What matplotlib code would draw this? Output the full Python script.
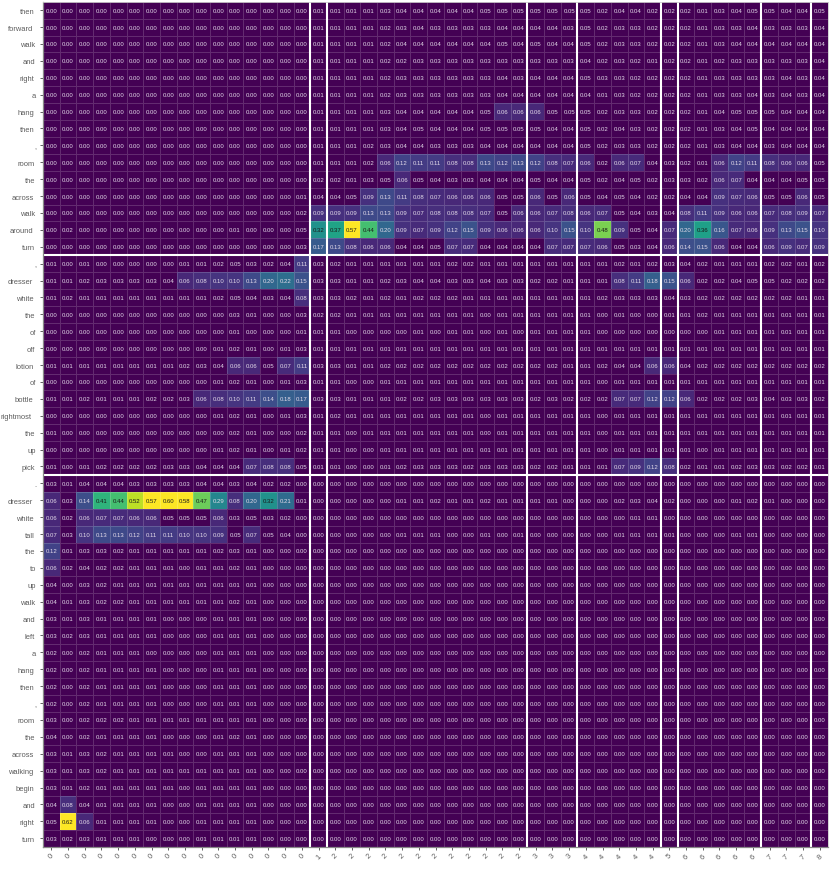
import numpy as np
import matplotlib
matplotlib.use("Agg")
import matplotlib.pyplot as plt
from matplotlib.colors import FuncNorm
from matplotlib.transforms import ScaledTranslation

plt.rcParams['font.family'] = ['Liberation Sans', 'DejaVu Sans']

col_labels = [0]*16 + [1] + [2]*12 + [3]*3 + [4]*5 + [5] + [6]*5 + [7]*3 + [8]

rows_a = ["then","forward","walk","and","right","a","hang","then",",","room","the","across","walk","around","turn"]
rows_b = [",","dresser","white","the","of","off","lotion","of","bottle","rightmost","the","up","pick"]
rows_c = [".","dresser","white","tall","the","to","up","walk","and","left","a","hang","then",",","room","the","across","walking","begin","and","right","turn"]

# values in hundredths, columns 0 (16 cells)
left_a = [
[0,0,0,0,0,0,0,0,0,0,0,0,0,0,0,0],
[0,0,0,0,0,0,0,0,0,0,0,0,0,0,0,0],
[0,0,0,0,0,0,0,0,0,0,0,0,0,0,0,0],
[0,0,0,0,0,0,0,0,0,0,0,0,0,0,0,0],
[0,0,0,0,0,0,0,0,0,0,0,0,0,0,0,0],
[0,0,0,0,0,0,0,0,0,0,0,0,0,0,0,0],
[0,0,0,0,0,0,0,0,0,0,0,0,0,0,0,0],
[0,0,0,0,0,0,0,0,0,0,0,0,0,0,0,0],
[0,0,0,0,0,0,0,0,0,0,0,0,0,0,0,0],
[0,0,0,0,0,0,0,0,0,0,0,0,0,0,0,0],
[0,0,0,0,0,0,0,0,0,0,0,0,0,0,0,0],
[0,0,0,0,0,0,0,0,0,0,0,0,0,0,0,1],
[0,0,0,0,0,0,0,0,0,0,0,0,0,0,0,2],
[0,2,0,0,0,0,0,0,0,0,0,1,0,0,0,5],
[0,0,0,0,0,0,0,0,0,0,0,0,0,0,0,3],
]
# columns 1..8 (31 cells)
right_a = [
[1, 1,1,1,3,4,4,4,4,4,5,5,5, 5,5,5, 5,2,4,4,2, 2, 2,1,3,4,5, 5,4,4, 5],
[1, 1,1,1,2,3,4,3,3,3,3,4,4, 4,4,3, 5,2,3,3,2, 2, 2,1,3,3,4, 3,3,3, 4],
[1, 1,1,1,2,4,4,4,4,4,4,5,4, 5,4,4, 5,2,3,3,2, 2, 2,1,3,4,4, 4,4,4, 4],
[1, 1,1,1,2,2,3,3,3,3,3,3,3, 3,3,3, 4,2,3,2,1, 2, 2,1,2,3,3, 3,3,3, 4],
[1, 1,1,1,2,3,3,3,3,3,3,4,3, 4,4,4, 5,3,3,2,2, 2, 2,1,3,3,3, 3,4,3, 4],
[1, 1,1,1,2,3,3,3,3,3,3,4,4, 4,4,4, 4,1,3,2,2, 2, 2,1,3,3,4, 3,4,3, 4],
[1, 1,1,1,3,4,4,4,4,4,5,6,6, 6,5,5, 5,2,3,3,2, 2, 2,1,4,5,5, 5,4,4, 4],
[1, 1,1,1,3,4,5,4,4,4,5,5,5, 5,4,4, 5,2,4,3,2, 2, 2,1,3,4,5, 4,4,4, 4],
[1, 1,1,2,3,4,4,3,3,3,4,4,4, 4,4,4, 5,2,3,3,2, 2, 2,1,3,4,4, 3,4,4, 4],
[1, 1,1,2,6,12,11,11,8,8,13,12,13, 12,8,7, 6,2,6,7,4, 3, 2,1,6,12,11, 8,6,6, 5],
[2, 2,1,3,5,6,5,4,3,3,4,4,4, 5,4,4, 5,2,4,5,2, 3, 3,2,6,7,4, 4,4,5, 5],
[4, 4,5,9,13,11,8,7,6,6,6,5,5, 6,5,6, 5,4,5,4,2, 2, 4,4,9,7,6, 5,5,6, 5],
[9, 9,9,13,13,9,7,8,8,8,7,5,6, 6,7,8, 6,7,5,4,3, 4, 8,11,9,6,6, 7,8,9, 7],
[32, 37,57,44,20,9,7,9,12,15,9,6,6, 6,10,15, 10,48,9,5,4, 7, 20,36,16,7,6, 9,13,15, 10],
[17, 13,8,6,6,4,4,5,7,7,4,4,4, 4,7,7, 7,6,5,3,4, 6, 14,15,6,4,4, 6,9,7, 9],
]
left_b = [
[1,0,1,0,0,0,0,0,1,1,2,5,3,2,4,11],
[1,1,2,3,3,3,3,4,6,8,10,10,13,20,22,15],
[1,2,1,1,1,1,1,1,1,1,2,5,4,3,4,8],
[0,0,0,0,0,0,0,0,0,0,0,3,1,0,0,3],
[0,0,0,0,0,0,0,0,0,0,0,1,0,0,0,1],
[0,0,0,0,0,0,0,0,0,0,1,2,1,0,1,3],
[1,1,1,1,1,1,1,1,2,3,4,6,6,5,7,11],
[0,0,0,0,0,0,0,0,0,0,1,2,1,0,1,3],
[1,1,2,1,1,1,2,2,3,6,8,10,11,14,18,17],
[0,0,0,0,0,0,0,0,0,0,1,2,1,0,1,3],
[1,0,0,0,0,0,0,0,0,0,0,2,1,0,0,2],
[0,0,0,0,0,0,0,0,0,0,1,2,1,0,1,2],
[1,0,1,2,2,2,2,3,3,4,4,4,7,8,8,5],
]
right_b = [
[3, 2,1,1,1,1,1,1,2,2,1,1,1, 1,1,1, 1,1,2,1,2, 3, 4,2,1,1,1, 2,2,1, 2],
[3, 3,1,1,2,3,4,4,3,3,4,3,3, 2,2,1, 1,1,8,11,18, 15, 6,2,2,4,5, 5,2,2, 2],
[3, 3,2,1,2,1,2,2,2,1,1,1,1, 1,1,1, 1,2,3,3,3, 4, 3,2,2,2,2, 2,2,1, 1],
[2, 2,1,1,1,1,1,1,1,1,0,1,1, 1,1,1, 1,0,1,0,0, 1, 1,2,1,1,1, 1,1,1, 1],
[1, 1,0,0,0,0,1,0,1,1,0,1,0, 1,1,1, 1,0,0,0,0, 0, 0,0,1,1,1, 1,1,1, 1],
[1, 1,1,1,1,1,1,1,1,1,1,1,1, 1,1,1, 1,1,1,1,1, 1, 1,1,1,1,1, 1,1,1, 1],
[3, 3,1,1,2,2,2,2,2,2,2,2,2, 2,2,1, 1,2,4,4,6, 6, 4,2,2,2,2, 2,2,2, 2],
[1, 1,0,0,1,1,1,1,1,1,1,1,1, 1,1,1, 1,0,1,1,1, 1, 1,1,1,1,1, 1,1,1, 1],
[3, 3,1,1,1,2,2,3,3,3,3,3,3, 2,3,2, 2,2,7,7,12, 12, 6,2,2,2,3, 4,3,3, 2],
[1, 2,1,1,1,1,1,1,1,1,0,1,1, 1,1,1, 1,0,1,1,1, 1, 1,1,1,1,1, 1,1,1, 1],
[1, 1,0,1,1,1,1,1,1,1,0,1,1, 1,1,1, 1,0,1,1,1, 1, 1,1,1,1,1, 1,1,1, 1],
[1, 1,0,0,1,1,1,1,1,1,1,1,1, 1,1,1, 1,0,1,1,1, 1, 1,0,1,1,1, 1,1,1, 1],
[1, 1,0,0,1,2,3,3,3,2,3,3,3, 2,2,1, 1,1,7,9,12, 8, 2,1,1,2,3, 3,2,2, 1],
]
left_c = [
[3,1,4,4,4,3,3,3,3,4,4,3,4,2,2,0],
[6,3,14,41,44,52,57,60,58,47,29,8,20,32,21,1],
[6,2,6,7,7,6,6,5,5,5,6,3,5,3,2,0],
[7,3,10,13,13,12,11,11,10,10,9,5,7,5,4,0],
[12,1,3,3,2,1,1,1,1,1,2,3,1,0,0,0],
[6,2,4,2,2,1,1,1,0,1,1,2,1,0,0,0],
[4,0,3,2,1,1,1,1,1,1,1,1,1,0,0,0],
[4,1,3,2,2,1,1,1,1,1,1,2,1,0,0,0],
[3,1,3,1,1,1,1,0,0,0,1,1,1,0,0,0],
[3,2,3,1,1,1,1,0,0,0,1,1,1,0,0,0],
[2,0,2,1,1,1,0,0,0,0,1,1,1,0,0,0],
[2,0,2,1,1,1,1,0,0,0,1,1,1,0,0,0],
[2,0,2,1,1,1,1,0,0,0,1,1,1,0,0,0],
[2,0,2,1,1,1,1,0,0,0,1,1,1,0,0,0],
[3,0,2,2,2,1,1,1,1,1,1,1,1,0,0,0],
[4,0,2,1,1,1,1,0,0,0,1,2,1,0,0,0],
[3,1,3,2,1,1,1,1,0,0,1,1,1,0,0,0],
[3,1,3,2,1,1,1,1,1,1,1,1,1,0,0,0],
[3,1,2,1,1,1,1,1,0,1,1,1,1,0,0,0],
[4,8,4,1,1,1,1,0,0,1,1,1,1,0,0,0],
[5,62,6,1,1,1,1,0,0,1,1,1,1,0,0,0],
[3,2,3,1,1,1,0,0,0,1,1,1,1,0,0,0],
]
zero_right = [0]*31
right_c = [
zero_right,
[0, 0,0,0,0,1,1,2,1,1,2,1,1, 1,1,0, 0,0,2,3,4, 2, 0,0,0,1,2, 1,0,0, 0],
[0, 0,0,0,0,0,0,0,0,0,0,0,0, 0,0,0, 0,0,0,1,1, 0, 0,0,0,0,0, 0,0,0, 0],
[0, 0,0,0,0,1,1,1,0,0,1,0,1, 0,0,0, 0,0,1,1,1, 1, 0,0,0,1,1, 0,0,0, 0],
] + [zero_right]*18

values = np.array([l + r for l, r in zip(left_a + left_b + left_c, right_a + right_b + right_c)]) / 100
row_labels = rows_a + rows_b + rows_c
n_rows, n_cols = values.shape

row_breaks = [15, 28]
col_breaks = [16, 17, 29, 32, 37, 38, 43, 46]

# colour scale: everything under 0.055 stays at the base colour
anchors_x = [0, 0.055, 0.06, 0.10, 0.13, 0.20, 0.32, 0.37, 0.44, 0.48, 0.52, 0.57, 1]
anchors_y = [0, 0.0, 0.11, 0.15, 0.22, 0.33, 0.50, 0.58, 0.70, 0.80, 0.90, 1.0, 1]
norm = FuncNorm((lambda v: np.interp(v, anchors_x, anchors_y),
                 lambda v: np.interp(v, anchors_y, anchors_x)), vmin=0, vmax=1)

W, H = 830, 878
fig = plt.figure(figsize=(W/100, H/100), dpi=100)
left, right, top, bottom = 43, 828, 2.7, 847.7
ax = fig.add_axes([left/W, 1-bottom/H, (right-left)/W, (bottom-top)/H])

ax.pcolormesh(np.arange(n_cols+1), np.arange(n_rows+1), values, cmap='viridis', norm=norm,
              edgecolors=(1, 1, 1, 0.17), linewidth=0.5)
ax.set_xlim(0, n_cols)
ax.set_ylim(n_rows, 0)

for i in range(n_rows):
    for j in range(n_cols):
        v = values[i, j]
        ax.text(j+0.5, i+0.5, f"{v:.2f}", ha='center', va='center', fontsize=4.3,
                color='#1a1a1a' if v > 0.3 else '#e4dcea')

for r in row_breaks:
    ax.axhline(r, color='white', lw=1.5)
for c in col_breaks:
    ax.axvline(c, color='white', lw=1.5)

ax.set_xticks(np.arange(n_cols)+0.5)
ax.set_xticklabels(col_labels, rotation=45, ha='center', fontsize=5.4, color='#5c5c5c')
ax.set_yticks(np.arange(n_rows)+0.5)
ax.set_yticklabels(row_labels, fontsize=5.4, color='#5c5c5c')
ax.tick_params(axis='both', length=2.2, width=0.6, color='#444444', pad=1.6)
ax.tick_params(axis='y', pad=2.2)

# longer row names end further from the axis in the reference
for lab in ax.get_yticklabels():
    dx = -0.55*len(lab.get_text())/100
    lab.set_transform(lab.get_transform() + ScaledTranslation(dx, 0, fig.dpi_scale_trans))

for s in ('top', 'right'):
    ax.spines[s].set_color('#cccccc')
    ax.spines[s].set_linewidth(0.6)
for s in ('left', 'bottom'):
    ax.spines[s].set_color('#888888')
    ax.spines[s].set_linewidth(0.9)

fig.savefig('out.png', dpi=100)
